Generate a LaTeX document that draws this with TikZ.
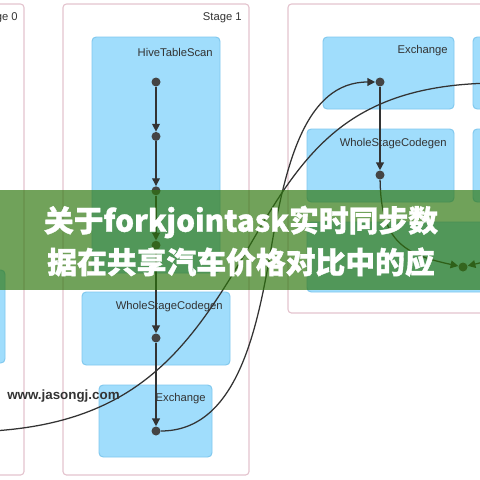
\documentclass[tikz,border=0pt]{standalone}
\usepackage{fontspec}
\setmainfont{Liberation Sans}
\newfontfamily\cjk{Noto Sans CJK SC}[BoldFeatures={FakeBold=1.2}]
\usetikzlibrary{arrows.meta,positioning}
\definecolor{stageline}{RGB}{228,196,206}
\definecolor{clusterfill}{RGB}{160,221,252}
\definecolor{clusterline}{RGB}{128,200,238}
\definecolor{dotgray}{RGB}{68,68,68}
\definecolor{edgegray}{RGB}{51,51,51}
\definecolor{bannergreen}{RGB}{45,118,12}
\tikzstyle{stage}=[draw=stageline,fill=white,line width=0.8pt,rounded corners=2.5pt]
\tikzstyle{cluster}=[draw=clusterline,fill=clusterfill,line width=0.7pt,rounded corners=3pt]
\tikzstyle{dot}=[circle,fill=dotgray,inner sep=0pt,minimum size=6.4pt]
\tikzstyle{flow}=[edgegray,line width=0.9pt,-{Triangle[length=5.5pt,width=5.5pt]}]
\tikzstyle{shuffle}=[edgegray,line width=0.9pt]
\tikzstyle{boxtext}=[text=edgegray,font=\fontsize{8}{9}\selectfont,inner sep=0pt,anchor=east]
\tikzstyle{title}=[text=white,font=\cjk\bfseries\fontsize{21.2}{25}\selectfont,inner sep=0pt]
\tikzstyle{watermark}=[text=edgegray,font=\bfseries\fontsize{9.5}{11}\selectfont,inner sep=0pt,anchor=west]
\newcommand{\drawflows}[2][flow]{
	\foreach \a/\b in {#2}{
		\draw[#1] (\a) edge (\b);
	}
}

\begin{document}
\begin{tikzpicture}[x=0.025cm,y=-0.025cm,node distance=1.36cm]
\useasboundingbox (0,0) rectangle (480,480);
\clip (0,0) rectangle (480,480);
% stages
\draw[stage] (-60,4) rectangle (24,475);
\draw[stage] (63,4) rectangle (249,475);
\draw[stage] (288,4) rectangle (600,313);
\node[boxtext] (st0) at (18,18) {Stage 0};
\node[boxtext] (st1) at (242,18) {Stage 1};

% stage 0
\draw[cluster] (-60,270) rectangle (5,363);

% stage 1
\draw[cluster] (92,37) rectangle (220,273);
\draw[cluster] (82,292) rectangle (230,365);
\draw[cluster] (99,385) rectangle (212,457);
\node[boxtext] (hts) at (213,52) {HiveTableScan};
\node[boxtext] (wsc1) at (223,307) {WholeStageCodegen};
\node[boxtext] (exc1) at (206,399) {Exchange};
\node[dot] (h1) at (156,82) {};
\node[dot,below of=h1] (h2) {};
\node[dot,below of=h2] (h3) {};
\node[dot,below of=h3] (h4) {};
\node[dot] (w1) at (156,338) {};
\node[dot] (e1) at (156,431) {};
\drawflows{h1/h2,h2/h3,h3/h4,h4/w1,w1/e1}

% stage 2
\draw[cluster] (323,37) rectangle (454,109);
\draw[cluster] (473,37) rectangle (600,109);
\draw[cluster] (307,129) rectangle (454,202);
\draw[cluster] (473,129) rectangle (600,202);
\draw[cluster] (307,222) rectangle (600,292);
\node[boxtext] (exc2) at (448,51) {Exchange};
\node[boxtext] (wsc2) at (447,144) {WholeStageCodegen};
\node[dot] (x2) at (380,82) {};
\node[dot] (w2) at (380,175) {};
\node[dot] (j2) at (463,267) {};
\coordinate (s3out) at (500,258);
\drawflows{x2/w2,s3out/j2}
\draw[flow] (w2) .. controls (381,240) and (402,254) .. (j2);

% shuffles between stages
\coordinate (s0out) at (-40,432);
\coordinate (s3in) at (500,83);
\draw[shuffle] (s0out) .. controls (130,432) and (185,357) .. (250,245) .. controls (305,150) and (350,83) .. (s3in);
\draw[flow] (e1) .. controls (235,431) and (256,335) .. (270,255) .. controls (285,165) and (305,82) .. (x2);

% banner
\fill[bannergreen,opacity=0.68] (0,190) rectangle (480,290);
\node[title] (t1) at (241,222) {关于forkjointask实时同步数};
\node[title] (t2) at (241,262) {据在共享汽车价格对比中的应};
\node[watermark] (site) at (7,396) {www.jasongj.com};
\end{tikzpicture}
\end{document}
